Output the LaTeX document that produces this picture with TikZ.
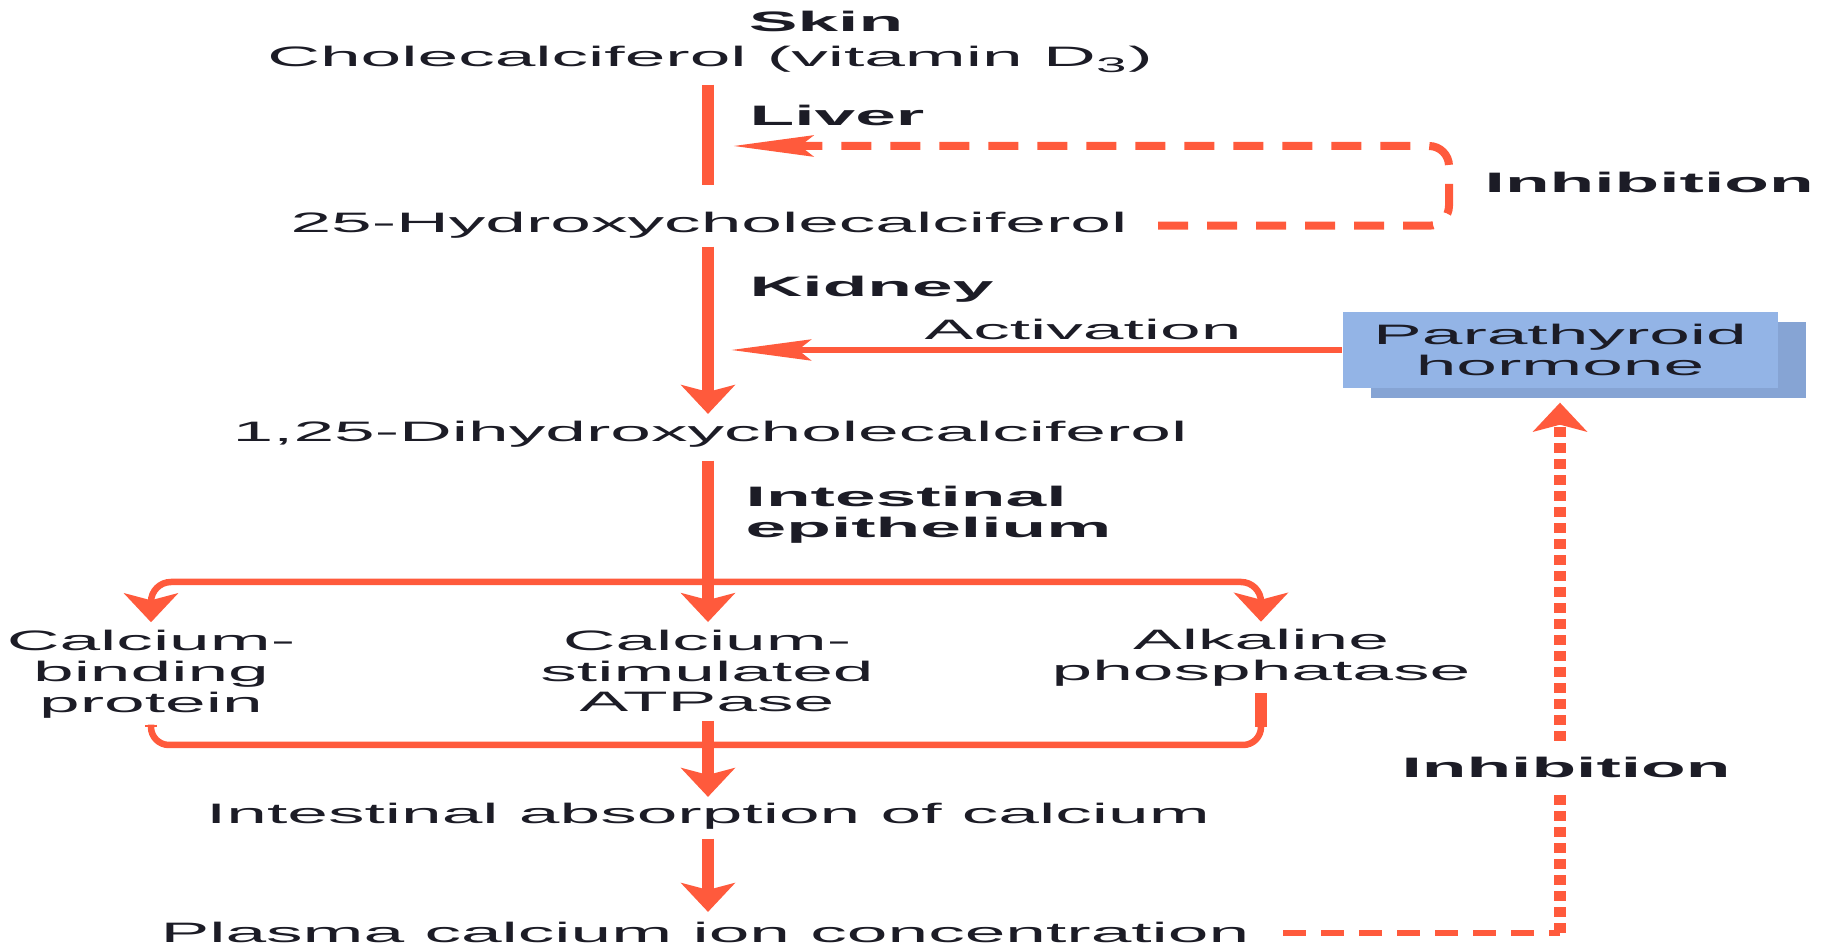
\documentclass[tikz,border=0pt]{standalone}
\usepackage{fontspec}
\setmainfont{Liberation Sans}[FakeStretch=2.6]
\usepackage{xcolor}
\usetikzlibrary{arrows.meta,shadows}
\definecolor{d_orange}{HTML}{FF5A3C}
\definecolor{l_blue}{HTML}{93B4E6}
\definecolor{d_blue}{HTML}{86A4D4}
\definecolor{ink}{HTML}{1C1C26}

\tikzset{
  lbl/.style={inner sep=0pt, text=ink},
  stage/.style={lbl, anchor=base},
  site/.style={lbl, anchor=base west, font=\fontsize{8}{8.8}\selectfont\bfseries},
  hflow/.style={draw=d_orange, line width=0.65mm},
  vflow/.style={draw=d_orange, line width=1.2mm},
  downtip/.style={-{Stealth[length=2.9mm,width=5.4mm,inset=0.7mm]}},
  lefttip/.style={-{Stealth[length=8mm,width=2.1mm,inset=1.3mm]}},
}

\begin{document}
\begin{tikzpicture}[x=0.1mm, y=-0.1mm, font=\fontsize{8}{8.8}\selectfont]
\useasboundingbox (0,0) rectangle (1825,947);
\coordinate (trunk) at (708,0);

% stages
\node (skin) at (826,32) [site, anchor=base] {Skin};
\node (chol) at (710,67) [stage] {Cholecalciferol (vitamin D\textsubscript{3})};
\node (hyd) at (709,233) [stage] {25-Hydroxycholecalciferol};
\node (dih) at (710,442) [stage] {1,25-Dihydroxycholecalciferol};
\node (absorb) at (708,824) [stage] {Intestinal absorption of calcium};
\node (plasma) at (705,943) [stage] {Plasma calcium ion concentration};

\node (liver) at (749,126) [site] {Liver};
\node (kidney) at (749,297) [site] {Kidney};
\node (epi) at (745,515) [site, anchor=west, align=left] {Intestinal\\epithelium};

% products
\node (cbp) at (151,674) [lbl, align=center] {Calcium-\\binding\\protein};
\node (atp) at (707,671) [lbl, align=center] {Calcium-\\stimulated\\ATPase};
\node (alp) at (1261,658) [lbl, align=center] {Alkaline\\phosphatase};

\node (pth) at (1560,350) [lbl, align=center, minimum width=43.5mm, minimum height=7.6mm,
  fill=l_blue, drop shadow={shadow xshift=2.8mm, shadow yshift=-1mm, fill=d_blue, opacity=1}]
  {Parathyroid\\hormone};

% main pathway
\draw[vflow, shorten <=1.1mm, shorten >=2.7mm] (chol.south -| trunk) -- (hyd.north -| trunk);
\draw[vflow, downtip, shorten <=0.7mm, shorten >=0.7mm] (hyd.south -| trunk) -- (dih.north -| trunk);
\draw[vflow, downtip, shorten <=1.2mm, shorten >=0.7mm] (dih.south -| trunk) -- (atp.north -| trunk);

\coordinate (split) at (708,582);
\draw[hflow, downtip, rounded corners=2mm, shorten >=0.7mm] (split) -| (cbp.north);
\draw[hflow, downtip, rounded corners=2mm, shorten >=0.7mm] (split) -| (alp.north);

\coordinate (merge) at (708,745);
\draw[vflow, shorten <=0.6mm, shorten >=1.8mm] (cbp.south) -- (cbp.south |- merge);
\draw[vflow, shorten <=0.6mm, shorten >=1.8mm] (alp.south) -- (alp.south |- merge);
\draw[hflow, rounded corners=1.8mm, shorten <=0.6mm] (cbp.south) |- (merge);
\draw[hflow, rounded corners=1.8mm, shorten <=0.6mm] (alp.south) |- (merge);
\draw[vflow, downtip, shorten <=0.8mm, shorten >=0.6mm] (atp.south -| trunk) -- (absorb.north -| trunk);
\draw[vflow, downtip, shorten <=0.8mm, shorten >=1mm] (absorb.south -| trunk) -- (plasma.north -| trunk);

% feedback
\coordinate (loop) at (1449,146);
\draw[hflow, line width=0.8mm, lefttip, dash pattern=on 3mm off 1.9mm, rounded corners=2mm,
  shorten <=3mm, shorten >=2.5mm] (hyd.east) -| (loop) -- (loop -| trunk);
\node (inhtop) at (1484,193) [site] {Inhibition};

\draw[hflow, lefttip, shorten >=2.3mm] (pth.west) -- (pth.west -| trunk);
\node (act) at (1083,340) [stage] {Activation};

\coordinate (bend) at (pth.south |- plasma.east);
\draw[hflow, dash pattern=on 2.3mm off 1.5mm, shorten <=3.3mm] (plasma.east) -- (bend);
\draw[vflow, downtip, dash pattern=on 1mm off 0.6mm, shorten >=1.4mm] (bend) -- (pth.south);
\node (inhlow) at (1566,778) [site, anchor=base, fill=white, inner ysep=1.2mm, inner xsep=1mm] {Inhibition};

\end{tikzpicture}
\end{document}
